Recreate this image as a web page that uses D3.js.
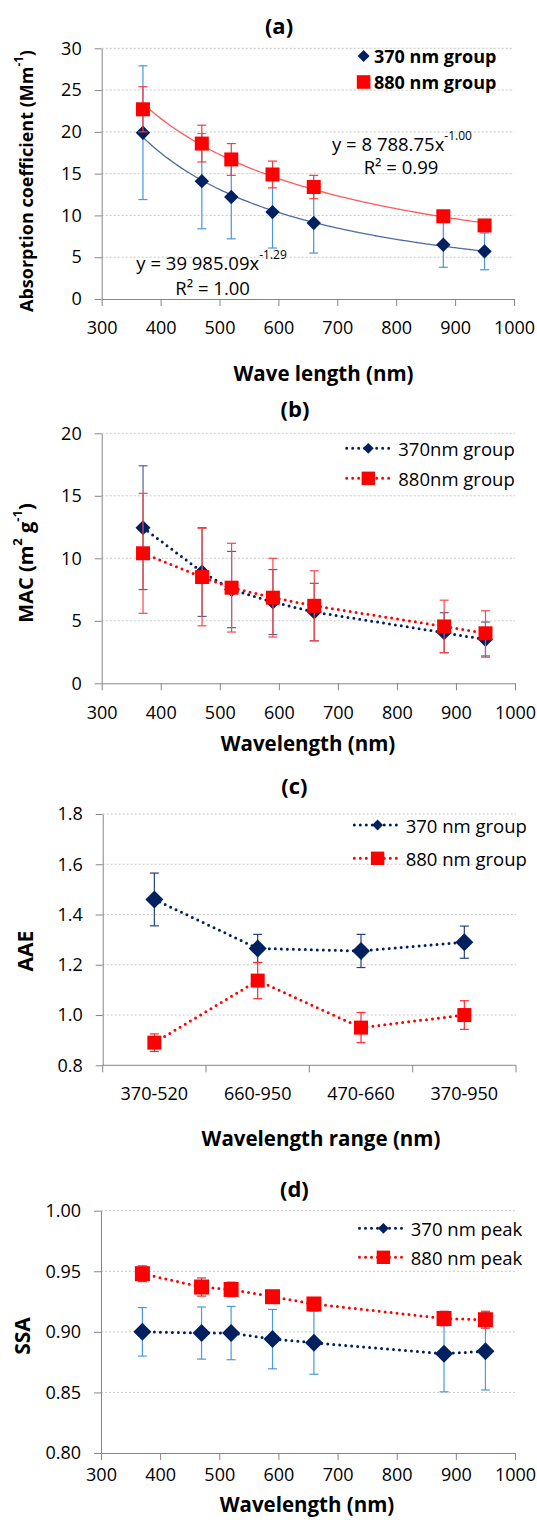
<!DOCTYPE html>
<html>
<head>
<meta charset="utf-8">
<script src="https://cdn.jsdelivr.net/npm/d3@7"></script>
<style>
  body { margin: 0; background: #fff; }
  svg text { font-family: "Open Sans", sans-serif; fill: #000; }
</style>
</head>
<body>
<div id="chart"></div>
<script>
// wavelengths used in (a), (b), (d)
const wavelengths = [370, 470, 520, 590, 660, 880, 950];
const waveTicks = [300, 400, 500, 600, 700, 800, 900, 1000];

// (a) absorption coefficient, Mm-1
const abs370 = [19.9, 14.1, 12.2, 10.4, 9.1, 6.5, 5.7];
const abs370Err = [8.0, 5.7, 5.0, 4.3, 3.6, 2.7, 2.2];
const abs880 = [22.7, 18.6, 16.7, 14.9, 13.4, 9.9, 8.8];
const abs880Err = [2.7, 2.2, 1.9, 1.6, 1.4, 0.6, 0.5];
const absTicks = [0, 5, 10, 15, 20, 25, 30];

// (b) MAC, m2 g-1
const mac370 = [12.45, 8.9, 7.5, 6.5, 5.7, 4.05, 3.5];
const mac370Err = [4.95, 3.55, 3.05, 2.6, 2.3, 1.6, 1.4];
const mac880 = [10.4, 8.5, 7.65, 6.85, 6.2, 4.55, 4.0];
const mac880Err = [4.8, 3.9, 3.55, 3.15, 2.8, 2.1, 1.8];
const macTicks = [0, 5, 10, 15, 20];

// (c) AAE per wavelength range
const ranges = ["370-520", "660-950", "470-660", "370-950"];
const aae370 = [1.46, 1.265, 1.255, 1.29];
const aae370Err = [0.105, 0.056, 0.066, 0.064];
const aae880 = [0.89, 1.137, 0.95, 1.0];
const aae880Err = [0.035, 0.072, 0.06, 0.057];
const aaeTicks = [0.8, 1.0, 1.2, 1.4, 1.6, 1.8];

// (d) SSA
const ssa370 = [0.900, 0.899, 0.899, 0.894, 0.891, 0.882, 0.884];
const ssa370Err = [0.020, 0.0215, 0.022, 0.0245, 0.026, 0.0315, 0.032];
const ssa880 = [0.948, 0.937, 0.935, 0.929, 0.923, 0.911, 0.910];
const ssa880Err = [0.0065, 0.0075, 0.006, 0.005, 0.005, 0.006, 0.007];
const ssaTicks = [0.80, 0.85, 0.90, 0.95, 1.00];

var navy = "#002060", red = "#ff0000",
  axisCol = "#868686", gridCol = "#c8c8c8",
  tickFont = 18, legFont = 18.5;

var svg = d3.select("#chart").append("svg")
  .attr("width", 537)
  .attr("height", 1528);

// text with optional superscript pieces: parts = [[txt, isSup], ...]
function rich(t, parts, size) {
  var up = false;
  parts.forEach(function(p){
    if (p[1]) {
      t.append("tspan").attr("font-size", size * 0.65).attr("dy", -size * 0.42).text(p[0]);
      up = true;
    } else {
      t.append("tspan").attr("font-size", size).attr("dy", up ? size * 0.42 : 0).text(p[0]);
      up = false;
    }
  });
  return t;
}

function label(x, y, parts, size, bold, rotate) {
  var t = svg.append("text")
    .attr("transform", "translate(" + x + "," + y + ")" + (rotate ? " rotate(-90)" : ""))
    .attr("text-anchor", "middle")
    .attr("dominant-baseline", "central")
    .attr("font-size", size)
    .attr("font-weight", bold ? "bold" : "normal");
  return rich(t, parts, size);
}

function frame(x, y, yTicks, yFmt) {
  var g = svg.append("g");
  var x0 = x.range()[0], x1 = x.range()[1];
  g.selectAll("line.grid")
    .data(yTicks.slice(1))
    .join("line")
    .attr("x1", x0).attr("x2", x1)
    .attr("y1", d => y(d)).attr("y2", d => y(d))
    .attr("stroke", gridCol)
    .attr("stroke-dasharray", "2,2");

  g.append("g")
    .attr("transform", "translate(" + x0 + ",0)")
    .call(d3.axisLeft(y).tickValues(yTicks).tickFormat(yFmt).tickSize(7).tickSizeOuter(0).tickPadding(13))
    .call(styleAxis);
  return g;
}

function styleAxis(a) {
  a.select(".domain").attr("stroke", axisCol);
  a.selectAll(".tick line").attr("stroke", axisCol);
  a.selectAll(".tick text").attr("font-size", tickFont).attr("fill", "#000");
}

function xAxisNum(x, y, labelDy) {
  svg.append("g")
    .attr("transform", "translate(0," + y.range()[0] + ")")
    .call(d3.axisBottom(x).tickValues(waveTicks).tickFormat(d3.format("d")).tickSize(7).tickSizeOuter(0))
    .call(styleAxis)
    .selectAll(".tick text")
      .attr("y", labelDy)
      .attr("dy", "0.35em");
}

function series(x, y, xs, ys, errs, o) {
  var g = svg.append("g");
  var idx = d3.range(xs.length);
  var cap = o.cap || 4.5;

  var eb = g.append("g").attr("stroke", o.errColor).attr("stroke-width", 1.2);
  eb.selectAll("line.v").data(idx).join("line")
    .attr("x1", i => x(xs[i])).attr("x2", i => x(xs[i]))
    .attr("y1", i => y(ys[i] - errs[i])).attr("y2", i => y(ys[i] + errs[i]));
  eb.selectAll("line.t").data(idx).join("line")
    .attr("x1", i => x(xs[i]) - cap).attr("x2", i => x(xs[i]) + cap)
    .attr("y1", i => y(ys[i] + errs[i])).attr("y2", i => y(ys[i] + errs[i]));
  eb.selectAll("line.b").data(idx).join("line")
    .attr("x1", i => x(xs[i]) - cap).attr("x2", i => x(xs[i]) + cap)
    .attr("y1", i => y(ys[i] - errs[i])).attr("y2", i => y(ys[i] - errs[i]));

  if (o.dotted) {
    g.append("path")
      .datum(idx)
      .attr("d", d3.line().x(i => x(xs[i])).y(i => y(ys[i])))
      .attr("fill", "none")
      .attr("stroke", o.color)
      .attr("stroke-width", 3)
      .attr("stroke-linecap", "round")
      .attr("stroke-dasharray", "0,6");
  }

  g.selectAll("path.m").data(idx).join("path")
    .attr("d", marker(o.shape, o.size))
    .attr("transform", i => "translate(" + x(xs[i]) + "," + y(ys[i]) + ")" + (o.shape == "diamond" ? " rotate(45)" : ""))
    .attr("fill", o.color);
}

// size = half of the visible width
function marker(shape, size) {
  var side = shape == "diamond" ? size * Math.SQRT2 : size * 2;
  return d3.symbol(d3.symbolSquare, side * side)();
}

function legend(items, lx0, lx1, mx, tx, ys, bold) {
  items.forEach(function(it, k){
    if (lx0 != null) {
      svg.append("line")
        .attr("x1", lx0).attr("x2", lx1)
        .attr("y1", ys[k]).attr("y2", ys[k])
        .attr("stroke", it.color)
        .attr("stroke-width", 3)
        .attr("stroke-linecap", "round")
        .attr("stroke-dasharray", "0,6");
    }
    svg.append("path")
      .attr("d", marker(it.shape, it.size))
      .attr("transform", "translate(" + mx + "," + ys[k] + ")" + (it.shape == "diamond" ? " rotate(45)" : ""))
      .attr("fill", it.color);
    svg.append("text")
      .attr("x", tx).attr("y", ys[k])
      .attr("dominant-baseline", "central")
      .attr("font-size", bold ? 18 : legFont)
      .attr("font-weight", bold ? "bold" : "normal")
      .text(it.name);
  });
}

// power-law fit from the points, y = a * x^b
function powerFit(xs, ys) {
  var lx = xs.map(Math.log), ly = ys.map(Math.log);
  var mx = d3.mean(lx), my = d3.mean(ly);
  var b = d3.sum(lx, (v, i) => (v - mx) * (ly[i] - my)) / d3.sum(lx, v => (v - mx) * (v - mx));
  var a = Math.exp(my - b * mx);
  return w => a * Math.pow(w, b);
}

// ---------- (a)
var xa = d3.scaleLinear().domain([300, 1000]).range([101.7, 514]);
var ya = d3.scaleLinear().domain([0, 30]).range([299, 48.3]);
frame(xa, ya, absTicks, d3.format("d"));
xAxisNum(xa, ya, 28.7);

[[abs370, navy, "#4f6aa3"], [abs880, red, "#ff5a5a"]].forEach(function(s){
  var f = powerFit(wavelengths, s[0]);
  svg.append("path")
    .datum(d3.range(370, 951, 5))
    .attr("d", d3.line().x(w => xa(w)).y(w => ya(f(w))).curve(d3.curveMonotoneX))
    .attr("fill", "none")
    .attr("stroke", s[2])
    .attr("stroke-width", 1.3);
});
series(xa, ya, wavelengths, abs370, abs370Err, {color: navy, errColor: "#4a95dc", shape: "diamond", size: 7.2});
series(xa, ya, wavelengths, abs880, abs880Err, {color: red, errColor: "#f03c3c", shape: "square", size: 7});

label(279, 25, [["(a)", false]], 22, true);
label(26, 181, [["Absorption coefficient (Mm", false], ["-1", true], [")", false]], 18, true, true);
label(323.5, 372.7, [["Wave length (nm)", false]], 20.5, true);
label(402, 143, [["y = 8 788.75x", false], ["-1.00", true]], 18.5);
label(401, 166, [["R\u00b2 = 0.99", false]], 18.5);
label(211.6, 261.7, [["y = 39 985.09x", false], ["-1.29", true]], 18.5);
label(212.6, 286.7, [["R\u00b2 = 1.00", false]], 18.5);
legend([{name: "370 nm group", color: navy, shape: "diamond", size: 6},
        {name: "880 nm group", color: red, shape: "square", size: 6.8}],
       null, null, 363.6, 374, [56, 82], true);

// ---------- (b)
var xb = d3.scaleLinear().domain([300, 1000]).range([101.7, 515]);
var yb = d3.scaleLinear().domain([0, 20]).range([683.3, 433.3]);
frame(xb, yb, macTicks, d3.format("d"));
xAxisNum(xb, yb, 29.4);
series(xb, yb, wavelengths, mac370, mac370Err, {color: navy, errColor: "#4d6196", shape: "diamond", size: 7.5, dotted: true});
series(xb, yb, wavelengths, mac880, mac880Err, {color: red, errColor: "#ff4545", shape: "square", size: 7, dotted: true});

label(295, 408.3, [["(b)", false]], 22, true);
label(25, 563, [["MAC  (m", false], ["2", true], [" g", false], ["-1", true], [")", false]], 20, true, true);
label(308, 743.3, [["Wavelength (nm)", false]], 20.5, true);
legend([{name: "370nm group", color: navy, shape: "diamond", size: 5.4},
        {name: "880nm group", color: red, shape: "square", size: 6.7}],
       346.7, 390, 368.3, 398.3, [448.3, 478.3], false);

// ---------- (c)
var xc = d3.scaleBand().domain(ranges).range([102.7, 516]);
var yc = d3.scaleLinear().domain([0.8, 1.8]).range([1065.3, 814]);
frame(d3.scaleLinear().range([102.7, 516]), yc, aaeTicks, d3.format(".1f"));
var gc = svg.append("g");
gc.append("line")
  .attr("x1", 102.7).attr("x2", 516)
  .attr("y1", yc(0.8)).attr("y2", yc(0.8))
  .attr("stroke", axisCol);
gc.selectAll("line.tk")
  .data(d3.range(ranges.length + 1))
  .join("line")
  .attr("x1", i => xc.range()[0] + i * xc.step())
  .attr("x2", i => xc.range()[0] + i * xc.step())
  .attr("y1", yc(0.8)).attr("y2", yc(0.8) + 7)
  .attr("stroke", axisCol);
gc.selectAll("text")
  .data(ranges)
  .join("text")
  .attr("x", d => xc(d) + xc.bandwidth() / 2)
  .attr("y", 1093.3)
  .attr("dy", "0.35em")
  .attr("text-anchor", "middle")
  .attr("font-size", tickFont)
  .text(d => d);

var xcMid = d => xc(d) + xc.bandwidth() / 2;
series(xcMid, yc, ranges, aae370, aae370Err, {color: navy, errColor: "#25427f", shape: "diamond", size: 9, dotted: true});
series(xcMid, yc, ranges, aae880, aae880Err, {color: red, errColor: "#ff2a2a", shape: "square", size: 7, dotted: true});

label(294.4, 785, [["(c)", false]], 22, true);
label(25, 951, [["AAE", false]], 21, true, true);
label(321, 1138.3, [["Wavelength range (nm)", false]], 20.5, true);
legend([{name: "370 nm group", color: navy, shape: "diamond", size: 5.4},
        {name: "880 nm group", color: red, shape: "square", size: 6.7}],
       354.3, 398.5, 377.6, 405.7, [825, 858.3], false);

// ---------- (d)
var xd = d3.scaleLinear().domain([300, 1000]).range([101, 515]);
var yd = d3.scaleLinear().domain([0.8, 1.0]).range([1453, 1210.7]);
frame(xd, yd, ssaTicks, d3.format(".2f"));
xAxisNum(xd, yd, 22);
series(xd, yd, wavelengths, ssa370, ssa370Err, {color: navy, errColor: "#4a9ae0", shape: "diamond", size: 9, dotted: true});
series(xd, yd, wavelengths, ssa880, ssa880Err, {color: red, errColor: "#e83030", shape: "square", size: 7.5, dotted: true});

label(294.4, 1188, [["(d)", false]], 22, true);
label(22, 1336, [["SSA", false]], 21, true, true);
label(307, 1504.3, [["Wavelength (nm)", false]], 20.5, true);
legend([{name: "370 nm peak", color: navy, shape: "diamond", size: 5.4},
        {name: "880 nm peak", color: red, shape: "square", size: 6.7}],
       359.5, 403.6, 383.4, 410.8, [1228.3, 1257.3], false);
</script>
</body>
</html>
